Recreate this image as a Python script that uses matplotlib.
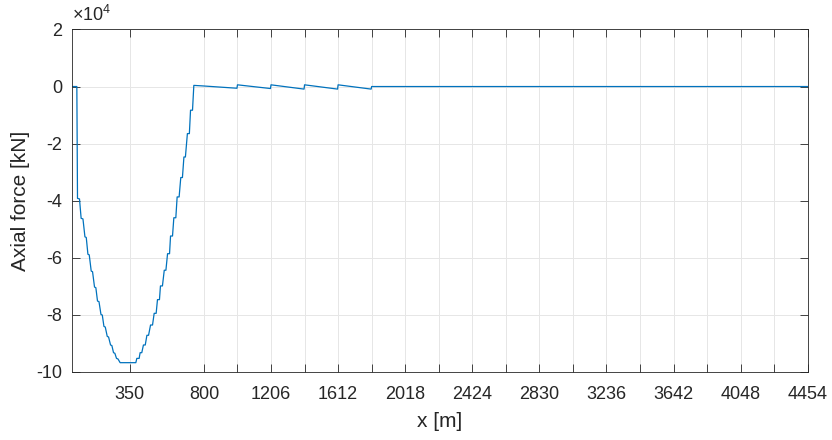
import matplotlib.pyplot as plt
from matplotlib.ticker import FuncFormatter

# axial force along the bridge, vertices
x_m = [0, 31, 35, 47, 57, 68, 80, 88, 98, 106, 118, 126, 138, 146, 156, 165,
       177, 185, 195, 203, 215, 223, 235, 243, 253, 261, 271, 280, 293, 388,
       394, 408, 414, 424, 434, 445, 455, 465, 477, 489, 499, 511, 519, 531,
       537, 549, 560, 570, 580, 592, 598, 610, 618, 630, 638, 650, 660, 670,
       679, 688, 700, 712, 719, 731, 739, 797, 1000, 1003, 1203, 1206, 1406,
       1409, 1609, 1612, 1812, 1815, 4454]
force_kN = [0, 0, -39200, -39400, -46200, -46400, -52700, -52900, -58800,
            -59000, -64700, -64900, -70300, -70500, -75200, -75400, -79900,
            -80100, -84100, -84300, -87600, -87800, -90600, -90800, -93300,
            -93500, -95300, -95500, -96800, -96800,
            -95300, -95300, -93300, -93300, -90600, -90600, -87200, -87200,
            -83600, -83600, -79500, -79500, -74700, -74700, -69900, -69900,
            -64400, -64400, -58600, -58600, -52400, -52400, -46000, -46000,
            -38700, -38700, -31900, -31900, -24700, -24700, -16500, -16500,
            -8300, -8300, 400, 200, -600, 600, -700, 600, -900, 600, -900,
            600, -900, 0, 0]

x_ticks = [350] + list(range(800, 4455, 203))
x_labels = ['350'] + [str(t) if (t - 800) % 406 == 0 else '' for t in x_ticks[1:]]
y_ticks = [20000, 0, -20000, -40000, -60000, -80000, -100000]

plt.rcParams['font.family'] = ['Liberation Sans', 'DejaVu Sans']
plt.rcParams['axes.unicode_minus'] = False
plt.rcParams['mathtext.fontset'] = 'custom'
plt.rcParams['mathtext.rm'] = 'Liberation Sans'

dark = '#262626'
fig = plt.figure(figsize=(8.32, 4.4), dpi=100)
ax = fig.add_axes([0.0862, 0.155, 0.8846, 0.778])

ax.plot(x_m, force_kN, color='#0072BD', lw=0.9)

ax.set_xlim(0, 4454)
ax.set_ylim(-100000, 20000)
ax.set_xticks(x_ticks)
ax.set_xticklabels(x_labels)
ax.set_yticks(y_ticks)
ax.yaxis.set_major_formatter(FuncFormatter(lambda v, p: '%g' % (v / 1e4)))

ax.grid(True, color='#e6e6e6', lw=0.7)
ax.set_axisbelow(True)
ax.tick_params(direction='in', length=5.5, width=0.6, colors=dark,
               labelsize=13, top=True, right=True)
ax.tick_params(axis='x', pad=10)
ax.tick_params(axis='y', pad=7)
for s in ax.spines.values():
    s.set_color(dark)
    s.set_linewidth(0.6)

ax.set_xlabel('x [m]', fontsize=15, color=dark, labelpad=7)
ax.set_ylabel('Axial force [kN]', fontsize=15, color=dark, labelpad=4)
ax.text(0.0, 1.012, r'$\times10^{4}$', transform=ax.transAxes, fontsize=13,
        color=dark, ha='left', va='bottom')

fig.savefig('out.png', dpi=100)
